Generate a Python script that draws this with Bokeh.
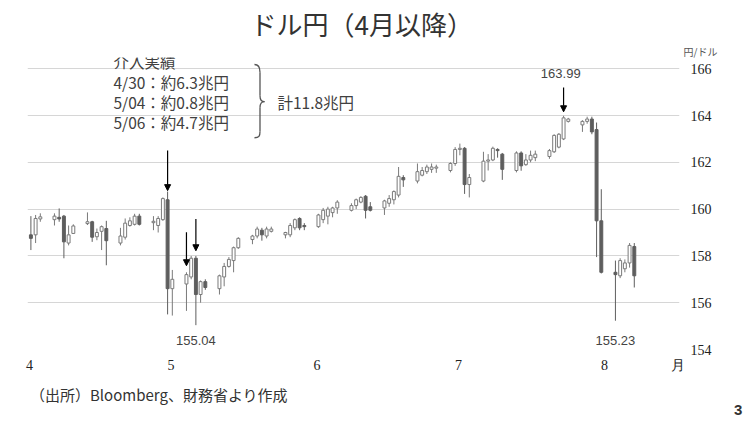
import pandas as pd
from bokeh.plotting import figure
from bokeh.layouts import column
from bokeh.models import Range1d, FixedTicker, Label, Arrow, NormalHead, ColumnDataSource, Title, Div
from bokeh.embed import file_html
from bokeh.resources import INLINE

# ドル円 日足（4月以降）
dates = [
    "2026-04-01", "2026-04-02", "2026-04-03",
    "2026-04-06", "2026-04-07", "2026-04-08", "2026-04-09", "2026-04-10",
    "2026-04-13", "2026-04-14", "2026-04-15", "2026-04-16", "2026-04-17",
    "2026-04-20", "2026-04-21", "2026-04-22", "2026-04-23", "2026-04-24",
    "2026-04-27", "2026-04-28", "2026-04-29", "2026-04-30", "2026-05-01",
    "2026-05-04", "2026-05-05", "2026-05-06", "2026-05-07", "2026-05-08",
    "2026-05-11", "2026-05-12", "2026-05-13", "2026-05-14", "2026-05-15",
    "2026-05-18", "2026-05-19", "2026-05-20", "2026-05-21", "2026-05-22",
    "2026-05-25", "2026-05-26", "2026-05-27", "2026-05-28", "2026-05-29",
    "2026-06-01", "2026-06-02", "2026-06-03", "2026-06-04", "2026-06-05",
    "2026-06-08", "2026-06-09", "2026-06-10", "2026-06-11", "2026-06-12",
    "2026-06-15", "2026-06-16", "2026-06-17", "2026-06-18", "2026-06-19",
    "2026-06-22", "2026-06-23", "2026-06-24", "2026-06-25", "2026-06-26",
    "2026-06-29", "2026-06-30", "2026-07-01", "2026-07-02", "2026-07-03",
    "2026-07-06", "2026-07-07", "2026-07-08", "2026-07-09", "2026-07-10",
    "2026-07-13", "2026-07-14", "2026-07-15", "2026-07-16", "2026-07-17",
    "2026-07-20", "2026-07-21", "2026-07-22", "2026-07-23", "2026-07-24",
    "2026-07-27", "2026-07-28", "2026-07-29", "2026-07-30", "2026-07-31",
    "2026-08-03", "2026-08-04", "2026-08-05", "2026-08-06", "2026-08-07",
]
opens = [
    158.90, 158.90, 159.58,
    159.55, 159.65, 159.70, 158.55, 158.96,
    159.38, 159.46, 158.82, 159.05, 159.17,
    158.55, 158.80, 159.30, 159.35, 159.70,
    159.42, 159.30, 159.55, 160.40, 156.60,
    156.80, 157.10, 157.90, 156.35, 156.90,
    156.60, 157.10, 157.55, 157.80, 158.35,
    158.70, 158.85, 159.10, 158.85, 159.05,
    158.90, 158.90, 159.20, 159.60, 159.30,
    159.25, 159.55, 159.70, 159.85, 160.05,
    159.95, 160.15, 160.30, 160.55, 160.10,
    160.05, 160.25, 160.40, 160.60, 161.35,
    161.20, 161.45, 161.60, 161.70, 161.75,
    161.65, 161.95, 162.55, 162.60, 161.05,
    161.20, 162.05, 162.10, 162.55, 162.35,
    161.65, 162.40, 161.90, 162.10, 162.20,
    162.25, 162.45, 162.65, 163.00, 163.75,
    163.60, 163.75, 163.85, 163.40, 159.50,
    157.30, 157.15, 157.45, 157.70, 158.40,
]
highs = [
    159.70, 159.75, 159.82,
    159.82, 160.03, 159.75, 159.30, 159.35,
    159.86, 159.50, 159.17, 159.30, 159.50,
    159.20, 159.60, 159.65, 159.80, 159.80,
    159.70, 159.70, 160.50, 160.75, 157.40,
    157.30, 158.00, 158.00, 156.95, 157.00,
    157.20, 157.70, 157.95, 158.40, 158.80,
    158.90, 159.25, 159.20, 159.25, 159.25,
    159.03, 159.40, 159.60, 159.65, 159.40,
    159.80, 160.05, 160.10, 160.10, 160.38,
    160.25, 160.45, 160.55, 160.60, 160.30,
    160.40, 160.60, 160.80, 161.80, 161.45,
    161.95, 161.80, 161.90, 161.95, 161.90,
    162.00, 162.65, 162.80, 162.65, 161.50,
    162.45, 162.35, 162.67, 162.60, 162.40,
    162.47, 162.47, 162.35, 162.50, 162.50,
    162.57, 163.20, 163.25, 163.99, 163.90,
    163.80, 163.95, 163.95, 163.70, 160.85,
    157.80, 157.90, 157.85, 158.55, 158.55,
]
lows = [
    158.25, 158.55, 159.46,
    159.30, 159.46, 157.90, 158.45, 158.95,
    159.32, 158.60, 158.67, 158.25, 157.60,
    158.45, 158.70, 159.25, 159.30, 159.30,
    159.10, 159.00, 159.50, 155.50, 155.45,
    155.65, 157.00, 155.04, 156.00, 156.55,
    156.35, 156.70, 157.50, 157.30, 158.30,
    158.50, 158.75, 158.65, 158.75, 159.00,
    158.75, 158.80, 159.10, 159.10, 159.10,
    159.20, 159.40, 159.35, 159.65, 159.80,
    159.90, 160.00, 160.25, 159.60, 159.90,
    159.75, 160.10, 160.20, 160.50, 160.95,
    161.10, 161.40, 161.50, 161.55, 161.55,
    161.57, 161.85, 162.30, 160.65, 160.50,
    161.15, 161.65, 162.05, 162.20, 161.25,
    161.57, 161.64, 161.85, 162.00, 162.05,
    162.15, 162.40, 162.60, 162.95, 163.70,
    163.30, 163.65, 163.20, 157.95, 157.25,
    155.23, 157.05, 157.30, 157.50, 156.65,
]
closes = [
    158.75, 159.60, 159.67,
    159.70, 159.58, 158.60, 158.90, 159.28,
    159.46, 158.80, 159.00, 159.25, 158.65,
    158.85, 159.40, 159.50, 159.70, 159.35,
    159.48, 159.60, 160.45, 156.60, 157.00,
    157.20, 157.90, 156.35, 156.90, 156.65,
    157.15, 157.55, 157.85, 158.35, 158.75,
    158.85, 159.15, 158.90, 159.15, 159.15,
    159.00, 159.30, 159.55, 159.20, 159.25,
    159.75, 159.95, 160.00, 160.05, 160.30,
    160.15, 160.40, 160.50, 159.95, 159.95,
    160.35, 160.45, 160.75, 161.40, 161.25,
    161.60, 161.65, 161.80, 161.80, 161.80,
    161.95, 162.55, 162.60, 161.05, 161.35,
    162.05, 162.10, 162.60, 162.50, 161.70,
    162.40, 161.85, 162.10, 162.30, 162.35,
    162.50, 163.15, 163.20, 163.90, 163.85,
    163.75, 163.85, 163.30, 159.50, 157.30,
    157.20, 157.80, 157.70, 158.45, 157.15,
]

month_starts = ["2026-04-01", "2026-05-01", "2026-06-01", "2026-07-01", "2026-08-01"]
month_labels = ["4", "5", "6", "7", "8"]
month_unit = "月"
y_ticks = [154, 156, 158, 160, 162, 164, 166]

intervention_dates = ["2026-04-30", "2026-05-04", "2026-05-06"]
peak_date = "2026-07-23"
low_dates = ["2026-05-06", "2026-08-03"]
notes = ["介入実績", "4/30：約6.3兆円", "5/04：約0.8兆円", "5/06：約4.7兆円"]
total_note = "計11.8兆円"
source_note = "（出所）Bloomberg、財務省より作成"
page_no = "3"

base = pd.Timestamp("2026-04-01")


def day_of(d):
    return (pd.Timestamp(d) - base).days


df = pd.DataFrame(dict(date=dates, open=opens, high=highs, low=lows, close=closes))
df["x"] = [day_of(d) + 0.3 for d in dates]
df["top"] = df[["open", "close"]].max(axis=1)
df["bottom"] = df[["open", "close"]].min(axis=1)
up = ColumnDataSource(df[df.close >= df.open])
down = ColumnDataSource(df[df.close < df.open])

x_end_grid = 136.83  # 罫線の右端
unit_x = 137.47      # 「月」の位置
p = figure(width=755, height=384, x_range=Range1d(-0.42, 137.89), y_range=Range1d(154, 166.48),
           y_axis_location="right", output_backend="svg", toolbar_location=None, title=None,
           min_border_left=27, min_border_right=76, min_border_top=57, min_border_bottom=35)
p.outline_line_color = None
p.background_fill_color = "white"
p.border_fill_color = "white"

# 軸
p.xgrid.visible = False
p.ygrid.ticker = FixedTicker(ticks=y_ticks)
p.ygrid.bounds = (-0.42, x_end_grid)
p.ygrid.grid_line_color = "#d6d6d6"
p.ygrid.grid_line_width = 1.2

ticks = [day_of(m) for m in month_starts]
p.xaxis.ticker = FixedTicker(ticks=ticks + [unit_x])
overrides = {t: lab for t, lab in zip(ticks, month_labels)}
overrides[unit_x] = month_unit
p.xaxis.major_label_overrides = overrides
p.xaxis.axis_line_color = None
p.xaxis.major_tick_line_color = None
p.xaxis.minor_tick_line_color = None
p.xaxis.major_label_standoff = 2
p.xaxis.major_label_text_font = "Liberation Serif"
p.xaxis.major_label_text_font_size = "14px"
p.xaxis.major_label_text_color = "#222222"

p.yaxis.ticker = FixedTicker(ticks=y_ticks)
p.yaxis.axis_line_color = None
p.yaxis.major_tick_line_color = None
p.yaxis.minor_tick_line_color = None
p.yaxis.major_label_standoff = 5
p.yaxis.major_label_text_font = "Liberation Serif"
p.yaxis.major_label_text_font_size = "14px"
p.yaxis.major_label_text_color = "#222222"

# ローソク足
p.segment(x0="x", y0="high", x1="x", y1="low", source=up, line_color="#7a7a7a", line_width=1)
p.segment(x0="x", y0="high", x1="x", y1="low", source=down, line_color="#5e5e5e", line_width=1)
p.vbar(x="x", width=0.62, top="top", bottom="bottom", source=up,
       fill_color="white", line_color="#7a7a7a", line_width=1)
p.vbar(x="x", width=0.62, top="top", bottom="bottom", source=down,
       fill_color="#5e5e5e", line_color="#5e5e5e", line_width=1)

# 矢印
hi = dict(zip(dates, highs))
lo = dict(zip(dates, lows))
arrow_spec = [(intervention_dates[0], 1.75, 0.04), (intervention_dates[1], 1.71, 0.28),
              (intervention_dates[2], 1.58, 0.22), (peak_date, 1.21, 0.17)]
for d, start, gap in arrow_spec:
    xx = day_of(d) + 0.3
    p.add_layout(Arrow(x_start=xx, y_start=hi[d] + start, x_end=xx, y_end=hi[d] + gap,
                       line_color="black", line_width=1.2,
                       end=NormalHead(size=6, fill_color="black", line_color="black")))

# 数値ラベル（安値は軸のすぐ上、高値は矢印の上）
lab_font = dict(text_font="Liberation Sans", text_font_size="13px", text_color="#444444",
                text_align="center", text_baseline="middle")
for d in low_dates:
    p.add_layout(Label(x=day_of(d) + 0.3, y=154.38, text=f"{lo[d]:.2f}", **lab_font))
p.add_layout(Label(x=day_of(peak_date) - 0.3, y=hi[peak_date] + 1.82, text=f"{hi[peak_date]:.2f}", **lab_font))

# 介入実績メモ
note_y = [166.32, 165.42, 164.57, 163.71]
for t, yy in zip(notes, note_y):
    p.add_layout(Label(x=17.82, y=yy, text=t, text_font="Noto Sans CJK JP", text_font_size="15.5px",
                       text_color="#404040", text_baseline="middle"))
p.add_layout(Label(x=52.6, y=164.57, text=total_note, text_font="Noto Sans CJK JP",
                   text_font_size="15.5px", text_color="#404040", text_baseline="middle"))
# 波かっこ
bx, bl, bt = 48.9, 47.73, 49.86
p.bezier(x0=[bl, bx, bx, bt, bx, bx], y0=[166.18, 165.85, 164.85, 164.59, 164.33, 163.32],
         x1=[bx, bx, bt, bx, bx, bl], y1=[165.85, 164.85, 164.59, 164.33, 163.32, 163.05],
         cx0=[bx - 0.2, bx, bx, bt - 0.5, bx, bx], cy0=[166.18, 165.85, 164.62, 164.59, 164.33, 163.12],
         cx1=[bx, bx, bt - 0.5, bx, bx, bx - 0.2], cy1=[166.05, 164.85, 164.59, 164.56, 163.32, 163.05],
         line_color="#555555", line_width=1.3)

# 単位・タイトル（上）
p.add_layout(Title(text="円/ドル", align="left", offset=656, standoff=-3,
                   text_font="Noto Sans CJK JP", text_font_size="10px", text_font_style="normal",
                   text_color="#555555"), "above")
p.add_layout(Title(text="ドル円（4月以降）", align="left", offset=223, standoff=4,
                   text_font="Noto Sans CJK JP", text_font_size="26px", text_font_style="normal",
                   text_color="#333333"), "above")

# 出所・ページ番号（下の帯）
foot_html = (
    '<div style="position:relative;width:755px;height:40px;">'
    '<span style="position:absolute;left:30px;top:1px;font-family:\'Noto Sans CJK JP\';'
    f'font-size:15px;line-height:19px;color:#333333;white-space:nowrap;">{source_note}</span>'
    '<span style="position:absolute;left:734px;top:17px;font-family:\'Liberation Sans\';'
    f'font-weight:bold;font-size:15px;line-height:18px;color:#333333;">{page_no}</span>'
    '</div>'
)
foot = Div(text=foot_html, width=755, height=40, margin=0)

open("out.html", "w").write(file_html(column(p, foot, spacing=0), INLINE))
